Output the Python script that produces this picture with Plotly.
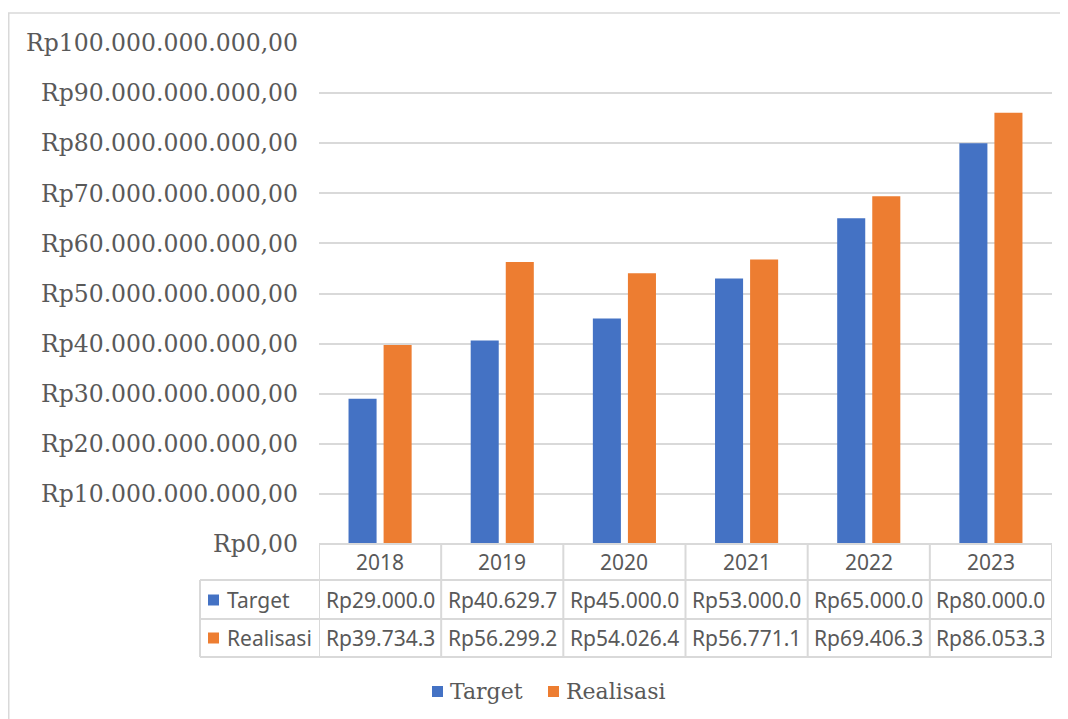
import plotly.graph_objects as go

# ---- data ----
years = ["2018", "2019", "2020", "2021", "2022", "2023"]
target = [29.0e9, 40.6297e9, 45.0e9, 53.0e9, 65.0e9, 80.0e9]
realisasi = [39.7343e9, 56.2992e9, 54.0264e9, 56.7711e9, 69.4063e9, 86.0533e9]
series_names = ["Target", "Realisasi"]
series_colors = ["#4472C4", "#ED7D31"]
ytick_vals = [0, 10e9, 20e9, 30e9, 40e9, 50e9, 60e9, 70e9, 80e9, 90e9, 100e9]


def rupiah(v):
    s = f"{v:,.2f}".replace(",", "#").replace(".", ",").replace("#", ".")
    return "Rp" + s


ytick_text = [rupiah(v) for v in ytick_vals]

# ---- geometry (page has an 8px body margin, so the figure is offset) ----
OFF = 8
W, H = 1068 - OFF, 719 - OFF
L, R, T = 319 - OFF, 16, 43 - OFF
B = H - (544 - OFF)
PW, PH = W - L - R, H - T - B


def px(xp):
    """reference page x-pixel -> paper x"""
    return (xp - OFF - L) / PW


def py(yp):
    """reference page y-pixel -> paper y"""
    return (H - B - (yp - OFF)) / PH


GRAY = "#595959"
LINE = "#d9d9d9"
SERIF = "DejaVu Serif"
SANS = "Noto Sans"
TABLE_SIZE = 21

fig = go.Figure()
for name, vals, col in zip(series_names, [target, realisasi], series_colors):
    fig.add_trace(go.Bar(x=years, y=vals, name=name, marker_color=col,
                         marker_line_width=0, showlegend=False))

shapes = []
annotations = []

# outer chart border (left and top)
shapes.append(dict(type="line", xref="paper", yref="paper", x0=px(8.75), x1=px(8.75),
                   y0=py(13), y1=py(740), line=dict(color=LINE, width=1.5)))
shapes.append(dict(type="line", xref="paper", yref="paper", x0=px(8), x1=px(1090),
                   y0=py(13), y1=py(13), line=dict(color=LINE, width=1.5)))

# data table
row_y = [544, 580, 619, 657]
shapes.append(dict(type="line", xref="paper", yref="paper", x0=0, x1=1,
                   y0=py(544), y1=py(544), line=dict(color=LINE, width=2)))
for yy in row_y[1:]:
    shapes.append(dict(type="line", xref="paper", yref="paper", x0=px(200), x1=1,
                       y0=py(yy), y1=py(yy), line=dict(color=LINE, width=2)))
shapes.append(dict(type="line", xref="paper", yref="paper", x0=px(200), x1=px(200),
                   y0=py(580), y1=py(657), line=dict(color=LINE, width=2)))
for i in range(len(years) + 1):
    shapes.append(dict(type="line", xref="x", yref="paper", x0=i - 0.5, x1=i - 0.5,
                       y0=py(544), y1=py(657), line=dict(color=LINE, width=2)))

row_centers = [562, 600, 638]
for i, yr in enumerate(years):
    annotations.append(dict(xref="x", yref="paper", x=i, y=py(row_centers[0]),
                            xanchor="center", yanchor="middle",
                            text=yr, showarrow=False,
                            font=dict(family=SANS, size=TABLE_SIZE, color=GRAY)))
for r, (name, vals, col) in enumerate(zip(series_names, [target, realisasi], series_colors)):
    yc = row_centers[r + 1]
    shapes.append(dict(type="rect", xref="paper", yref="paper", x0=px(208), x1=px(219),
                       y0=py(yc - 5.5), y1=py(yc + 5.5), fillcolor=col, line_width=0))
    annotations.append(dict(xref="paper", yref="paper", x=px(225), y=py(yc),
                            xanchor="left", yanchor="middle", text=name, showarrow=False,
                            font=dict(family=SANS, size=TABLE_SIZE, color=GRAY)))
    for i, v in enumerate(vals):
        annotations.append(dict(xref="x", yref="paper", x=i, y=py(yc),
                                xanchor="center", yanchor="middle",
                                text=rupiah(v)[:10], showarrow=False,
                                font=dict(family=SANS, size=TABLE_SIZE, color=GRAY)))

# bottom legend
legend_sq_x = [432, 548]
for name, col, sx in zip(series_names, series_colors, legend_sq_x):
    shapes.append(dict(type="rect", xref="paper", yref="paper", x0=px(sx), x1=px(sx + 11),
                       y0=py(697), y1=py(686), fillcolor=col, line_width=0))
    annotations.append(dict(xref="paper", yref="paper", x=px(sx + 16), y=py(691),
                            xanchor="left", yanchor="middle", text=name, showarrow=False,
                            font=dict(family=SERIF, size=22, color=GRAY)))

fig.update_layout(
    width=W, height=H,
    margin=dict(l=L, r=R, t=T, b=B, pad=0),
    paper_bgcolor="white", plot_bgcolor="white",
    barmode="group", bargap=0.426, bargroupgap=0.2,
    showlegend=False,
    xaxis=dict(type="category", showticklabels=False, showgrid=False,
               showline=False, zeroline=False, range=[-0.5, 5.5]),
    yaxis=dict(range=[0, 100e9], tickvals=ytick_vals, ticktext=ytick_text,
               showgrid=True, gridcolor=LINE, gridwidth=1.5, zeroline=False,
               showline=False, ticklabelstandoff=20,
               tickfont=dict(family=SERIF, size=23.5, color=GRAY)),
    shapes=shapes,
    annotations=annotations,
)

fig.write_html("out.html")
